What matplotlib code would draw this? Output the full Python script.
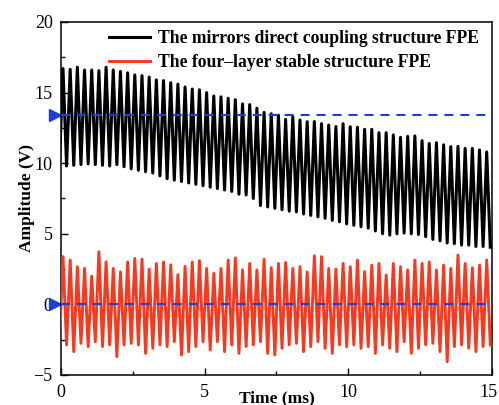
import numpy as np
import matplotlib
matplotlib.use("Agg")
import matplotlib.pyplot as plt
from matplotlib.transforms import ScaledTranslation

# Sampled extrema of the two interference signals (4 kHz, 0.25 ms period)
t_first_peak = 0.07      # ms
half_period = 0.125      # ms

direct_peaks = [16.7, 16.65, 16.8, 16.6, 16.6, 16.55, 16.8, 16.6, 16.5, 16.4,
                16.25, 16.2, 16.1, 15.9, 15.85, 15.7, 15.6, 15.4, 15.25, 15.2,
                15.0, 14.76, 14.7, 14.6, 14.5, 14.2, 14.15, 13.9, 13.6, 13.5,
                13.4, 13.1, 13.3, 13.06, 12.94, 12.95, 12.8, 12.7, 12.6, 12.8,
                12.58, 12.55, 12.4, 12.4, 12.16, 12.16, 12.0, 11.83, 11.9, 11.93,
                11.6, 11.4, 11.45, 11.3, 11.17, 11.2, 11.05, 11.05, 10.94, 10.8]
direct_troughs = [9.8, 9.85, 9.9, 9.95, 9.9, 9.85, 9.8, 9.9, 9.75, 9.6,
                  9.5, 9.4, 9.3, 9.1, 8.9, 8.8, 8.7, 8.6, 8.5, 8.4,
                  8.3, 8.2, 8.1, 8.0, 7.8, 7.75, 7.5, 7.0, 6.9, 6.8,
                  6.7, 6.6, 6.55, 6.4, 6.3, 6.2, 6.1, 5.95, 5.85, 5.7,
                  5.6, 5.5, 5.4, 5.2, 5.0, 4.9, 5.0, 5.05, 5.0, 4.95,
                  4.8, 4.6, 4.5, 4.35, 4.3, 4.2, 4.2, 4.1, 4.1, 4.05]

stable_peaks = [3.38, 3.14, 2.67, 2.55, 2.0, 3.73, 3.02, 2.55, 2.3, 3.0,
                3.25, 3.2, 2.5, 2.9, 3.0, 2.8, 2.1, 2.7, 3.0, 3.1,
                2.55, 2.2, 2.55, 3.14, 3.3, 2.44, 2.9, 2.44, 3.2, 2.6,
                2.9, 2.97, 2.55, 2.67, 2.3, 3.44, 3.38, 2.55, 2.5, 2.9,
                2.67, 3.14, 2.32, 2.78, 2.9, 2.08, 2.9, 2.67, 2.44, 3.14,
                2.9, 3.0, 2.44, 2.78, 2.55, 3.5, 2.9, 2.6, 2.78, 3.14]
stable_troughs = [-2.87, -3.35, -2.76, -2.99, -2.64, -2.99, -2.87, -3.70, -2.87, -2.76,
                  -2.87, -3.47, -3.11, -2.87, -2.99, -2.64, -3.58, -3.35, -2.99, -2.64,
                  -3.23, -2.64, -3.35, -2.87, -3.47, -2.99, -2.87, -2.64, -3.47, -3.58,
                  -3.11, -2.87, -2.76, -3.35, -2.99, -2.64, -3.11, -3.47, -2.87, -3.0,
                  -2.87, -3.11, -2.99, -3.47, -2.87, -3.11, -3.35, -2.64, -3.47, -3.11,
                  -2.87, -2.76, -3.35, -4.06, -2.99, -2.87, -3.11, -3.35, -2.99, -2.87]

# Reference (mean) levels marked with dashed lines
ref_levels = [13.4, 0.0]

x_ticks = [0, 5, 10, 15]
y_ticks = [-5, 0, 5, 10, 15, 20]
legend_labels = ["The mirrors direct coupling structure FPE",
                 "The four\u2013layer stable structure FPE"]


def interleave(peaks, troughs, lead):
    """Build a time/value trace alternating peak and trough values."""
    vals = [lead]
    for p, tr in zip(peaks, troughs):
        vals += [p, tr]
    vals = np.array(vals)
    t = t_first_peak - half_period + half_period * np.arange(len(vals))
    return t, vals


plt.rcParams["font.family"] = ["Liberation Serif", "DejaVu Serif"]
plt.rcParams["lines.scale_dashes"] = False

fig = plt.figure(figsize=(4.99, 4.05), dpi=100)
ax = fig.add_axes([0.1222, 0.0741, 0.8635, 0.8716])

t_d, v_d = interleave(direct_peaks, direct_troughs, direct_troughs[0])
t_s, v_s = interleave(stable_peaks, stable_troughs, stable_troughs[0])

ax.plot(t_d, v_d, color="black", lw=2.2, solid_joinstyle="round",
        label=legend_labels[0], zorder=3)
ax.plot(t_s, v_s, color="#f7391f", lw=2.1, solid_joinstyle="round",
        label=legend_labels[1], zorder=3)

offset = ScaledTranslation(-5.5 / 100, 0, fig.dpi_scale_trans)
for lvl in ref_levels:
    ax.axhline(lvl, color="#1e3fd6", lw=1.5, dashes=(6.5, 5.0), zorder=4)
    ax.plot([0], [lvl], marker=">", ms=8.5, color="#1e3fd6", clip_on=False,
            transform=ax.transData + offset, zorder=2)

ax.set_xlim(0, 15)
ax.set_ylim(-5, 20)
ax.set_xticks(x_ticks)
ax.set_yticks(y_ticks)
ax.set_xticks([2.5, 7.5, 12.5], minor=True)
ax.set_yticks([-2.5, 2.5, 7.5, 12.5, 17.5], minor=True)
ax.set_yticklabels(["\u22125" if v < 0 else str(v) for v in y_ticks])
ax.tick_params(which="both", direction="in", top=False, right=False,
               labelsize=13, width=1.0)
ax.tick_params(which="major", length=5)
ax.tick_params(which="minor", length=3)
ax.tick_params(axis="x", pad=6.5)
ax.tick_params(axis="y", pad=6)
for s in ax.spines.values():
    s.set_linewidth(1.1)

# keep the last x tick label inside the canvas
last_lbl = ax.get_xticklabels()[-1]
last_lbl.set_transform(last_lbl.get_transform()
                       + ScaledTranslation(-3 / 100, 0, fig.dpi_scale_trans))

ax.set_xlabel("Time (ms)", fontsize=12.5, fontweight="bold", labelpad=-8)
ax.set_ylabel("Amplitude (V)", fontsize=12.5, fontweight="bold", labelpad=-1)

ax.legend(loc="upper left", bbox_to_anchor=(0.088, 1.005), frameon=False,
          prop={"weight": "bold", "size": 12.7}, handlelength=2.35,
          handletextpad=0.45, borderaxespad=0.15, labelspacing=0.42)

fig.savefig("out.png", dpi=100)
